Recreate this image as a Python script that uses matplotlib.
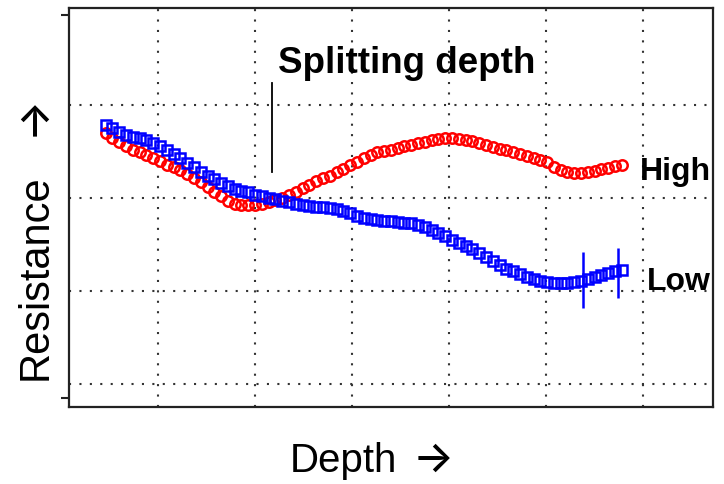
import matplotlib
matplotlib.use("Agg")
import matplotlib.pyplot as plt

# depth sampling (arbitrary units), shared by both series
depth = [0.46, 0.53, 0.60, 0.67, 0.74, 0.81, 0.88, 0.95, 1.02, 1.09,
         1.16, 1.23, 1.30, 1.37, 1.44, 1.51, 1.58, 1.65, 1.72, 1.79,
         1.86, 1.93, 2.00, 2.07, 2.14, 2.21, 2.28, 2.35, 2.42, 2.49,
         2.56, 2.63, 2.70, 2.77, 2.84, 2.91, 2.98, 3.05, 3.12, 3.19,
         3.26, 3.33, 3.40, 3.47, 3.54, 3.61, 3.68, 3.75, 3.82, 3.89,
         3.96, 4.03, 4.10, 4.17, 4.24, 4.31, 4.38, 4.45, 4.52, 4.59,
         4.66, 4.73, 4.80, 4.87, 4.94, 5.01, 5.08, 5.15, 5.22, 5.29,
         5.36, 5.43, 5.50, 5.57, 5.64, 5.71, 5.78]

# "Low" resistance (blue squares)
low = [3.78, 3.75, 3.71, 3.68, 3.66, 3.64, 3.62, 3.59, 3.56, 3.52,
       3.47, 3.43, 3.38, 3.33, 3.28, 3.24, 3.20, 3.16, 3.13, 3.10,
       3.08, 3.06, 3.03, 3.02, 3.00, 2.99, 2.97, 2.96, 2.94, 2.92,
       2.91, 2.90, 2.90, 2.89, 2.88, 2.86, 2.84, 2.81, 2.79, 2.77,
       2.76, 2.75, 2.75, 2.74, 2.73, 2.73, 2.71, 2.69, 2.66, 2.62,
       2.59, 2.55, 2.52, 2.48, 2.45, 2.41, 2.37, 2.32, 2.28, 2.24,
       2.21, 2.18, 2.15, 2.13, 2.11, 2.10, 2.09, 2.09, 2.09, 2.10,
       2.11, 2.13, 2.15, 2.17, 2.19, 2.21, 2.23]

# "High" resistance (red circles)
high = [3.70, 3.64, 3.60, 3.56, 3.52, 3.49, 3.46, 3.43, 3.40, 3.36,
        3.33, 3.30, 3.26, 3.22, 3.17, 3.12, 3.07, 3.02, 2.97, 2.94,
        2.92, 2.92, 2.92, 2.94, 2.96, 2.98, 3.00, 3.03, 3.07, 3.11,
        3.14, 3.18, 3.21, 3.24, 3.28, 3.31, 3.35, 3.39, 3.43, 3.46,
        3.49, 3.51, 3.52, 3.54, 3.56, 3.57, 3.59, 3.60, 3.62, 3.63,
        3.64, 3.64, 3.63, 3.62, 3.61, 3.59, 3.57, 3.55, 3.53, 3.52,
        3.49, 3.47, 3.45, 3.43, 3.41, 3.39, 3.33, 3.30, 3.28, 3.27,
        3.27, 3.28, 3.29, 3.31, 3.32, 3.34, 3.35]

# error bars on the low series near the end
err_depth = [5.38, 5.74]
err_value = [2.12, 2.19]
err_size = [0.30, 0.27]

split_depth = 2.175

FONT = ["Liberation Sans", "DejaVu Sans"]
ARROW_FONT = ["Inter", "DejaVu Sans"]
W, H = 724, 484

fig = plt.figure(figsize=(W / 100, H / 100), dpi=100)
ax = fig.add_axes([69 / W, 77 / H, 644 / W, 399 / H])

for gx in [1, 2, 3, 4, 5, 6]:
    ax.axvline(gx, color="#333333", lw=1.5, ls=(0, (1, 4)), zorder=0)
for gy in [1, 2, 3, 4]:
    ax.axhline(gy, color="#333333", lw=1.5, ls=(0, (1, 4)), zorder=0)

ax.plot(depth, high, "o", ms=7.5, mfc="none", mec="#ff0000", mew=1.8, zorder=3)
ax.plot(depth, low, "s", ms=7.5, mfc="none", mec="#0000ff", mew=1.8, zorder=4)
ax.errorbar(err_depth, err_value, yerr=err_size, fmt="none", ecolor="#0000ff",
            elinewidth=1.8, capsize=0, zorder=5)

# splitting depth marker + labels
ax.plot([split_depth, split_depth], [3.28, 4.24], color="black", lw=1.3)
ax.text(2.24, 4.34, "Splitting depth", family=FONT, fontsize=26.5,
        fontweight="bold", ha="left", va="baseline")
ax.text(5.97, 3.19, "High", family=FONT, fontsize=23, fontweight="bold",
        ha="left", va="baseline")
ax.text(6.04, 2.01, "Low", family=FONT, fontsize=23, fontweight="bold",
        ha="left", va="baseline")

ax.set_xlim(0.082, 6.72)
ax.set_ylim(0.753, 5.043)
ax.set_xticks([])
ax.set_yticks([0.85, 4.97])
ax.set_yticklabels([])
ax.tick_params(axis="y", direction="out", length=6, width=1.5, color="#222222")
for sp in ax.spines.values():
    sp.set_linewidth(1.6)
    sp.set_color("#222222")

# axis labels; the arrow glyph comes from Inter (open chevron head)
fig.text(290 / W, 12 / H, "Depth", family=FONT, fontsize=29,
         ha="left", va="baseline")
fig.text(413 / W, 12 / H, "\u2192", family=ARROW_FONT, fontsize=31,
         fontweight="medium", ha="left", va="baseline")
fig.text(47 / W, 104 / H, "Resistance", family=FONT, fontsize=30,
         rotation=90, rotation_mode="anchor", ha="left", va="baseline")
fig.text(44 / W, (H - 136) / H, "\u2192", family=ARROW_FONT, fontsize=31,
         fontweight="medium", rotation=90, rotation_mode="anchor",
         ha="left", va="baseline")

fig.savefig("out.png", dpi=100)
